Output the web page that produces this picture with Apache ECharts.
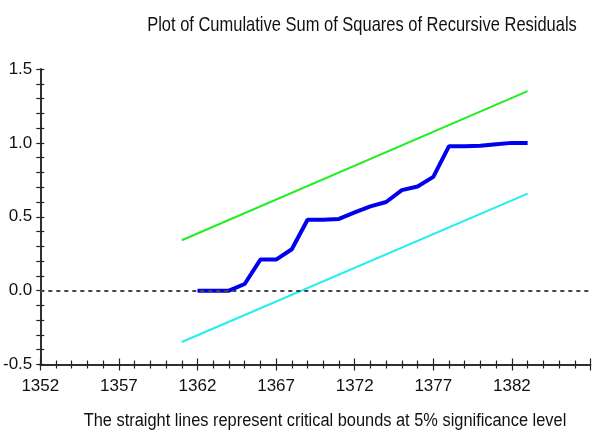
<!DOCTYPE html>
<html>
<head>
<meta charset="utf-8">
<script src="https://cdn.jsdelivr.net/npm/echarts@6/dist/echarts.min.js"></script>
<style>
html,body{margin:0;padding:0;background:#fff;}
#c{width:592px;height:434px;}
</style>
</head>
<body>
<div id="c"></div>
<script>
var titleText = 'Plot of Cumulative Sum of Squares of Recursive Residuals';
var footText = 'The straight lines represent critical bounds at 5% significance level';
var years = [1362,1363,1364,1365,1366,1367,1368,1369,1370,1371,1372,1373,1374,1375,1376,1377,1378,1379,1380,1381,1382,1383];
var cusumsq = [0,0,0,0.045,0.21,0.21,0.28,0.48,0.48,0.485,0.53,0.57,0.60,0.68,0.705,0.77,0.978,0.978,0.98,0.99,1.0,1.0];
var boundYears = [1361,1383];
var upperBound = [0.341,1.35];
var lowerBound = [-0.348,0.657];
var xMin = 1352, xMax = 1387, xStep = 5;
var yMin = -0.5, yMax = 1.5, yStep = 0.5;

var FONT = "'Liberation Sans', Arial, sans-serif";
function pairs(xs, ys){ return xs.map(function(x,i){ return [x, ys[i]]; }); }

var chart = echarts.init(document.getElementById('c'), null, {renderer:'canvas'});
var axisColor = '#222';
var baseX = {
  type:'value', min:xMin, max:xMax, interval:xStep, position:'bottom',
  axisLine:{show:true, onZero:false, lineStyle:{color:axisColor, width:1.5}},
  splitLine:{show:false},
  minorSplitLine:{show:false}
};
var baseY = {
  type:'value', min:yMin, max:yMax, interval:yStep, position:'left',
  axisLine:{show:true, onZero:false, lineStyle:{color:axisColor, width:1.5}},
  splitLine:{show:false},
  minorSplitLine:{show:false}
};
chart.setOption({
  animation:false,
  backgroundColor:'#fff',
  graphic:[
    {type:'text', x:362, y:25, scaleX:0.785, silent:true,
     style:{text:titleText, font:"normal 21px 'Liberation Sans', Arial, sans-serif",
       fill:'#111', textAlign:'center', textVerticalAlign:'middle'}},
    {type:'text', x:325, y:421, scaleX:0.91, silent:true,
     style:{text:footText, font:"normal 18px 'Liberation Sans', Arial, sans-serif",
       fill:'#111', textAlign:'center', textVerticalAlign:'middle'}}
  ],
  grid:{left:40, right:1.5, top:69, bottom:69.5, containLabel:false},
  xAxis:[
    Object.assign({}, baseX, {
      axisTick:{show:true, inside:false, length:6, lineStyle:{color:axisColor, width:1.2}},
      minorTick:{show:true, splitNumber:5, length:4, lineStyle:{color:axisColor, width:1.2}},
      axisLabel:{show:true, margin:13, showMaxLabel:false, fontFamily:FONT, fontSize:17, color:'#111',
        formatter:function(v){ return String(v); }}
    }),
    Object.assign({}, baseX, {
      axisTick:{show:true, inside:true, length:6, lineStyle:{color:axisColor, width:1.2}},
      minorTick:{show:true, splitNumber:5, length:4, lineStyle:{color:axisColor, width:1.2}},
      axisLabel:{show:false}
    })
  ],
  yAxis:[
    Object.assign({}, baseY, {
      axisTick:{show:true, inside:false, length:4, lineStyle:{color:axisColor, width:1.2}},
      minorTick:{show:true, splitNumber:5, length:4, lineStyle:{color:axisColor, width:1.2}},
      axisLabel:{show:true, margin:8, fontFamily:FONT, fontSize:17, color:'#111',
        formatter:function(v){ return v.toFixed(1); }}
    }),
    Object.assign({}, baseY, {
      axisTick:{show:true, inside:true, length:4, lineStyle:{color:axisColor, width:1.2}},
      minorTick:{show:true, splitNumber:5, length:4, lineStyle:{color:axisColor, width:1.2}},
      axisLabel:{show:false}
    })
  ],
  series:[
    {type:'line', name:'upper', data:pairs(boundYears, upperBound), showSymbol:false, symbol:'none',
     lineStyle:{color:'#22ee22', width:2}, z:3,
     markLine:{silent:true, symbol:'none', label:{show:false},
       lineStyle:{color:'#444', type:[4,4], width:2},
       data:[{yAxis:0}]}},
    {type:'line', name:'lower', data:pairs(boundYears, lowerBound), showSymbol:false, symbol:'none',
     lineStyle:{color:'#22eeee', width:2}, z:3},
    {type:'line', name:'cusumsq', data:pairs(years, cusumsq), showSymbol:false, symbol:'none',
     lineStyle:{color:'#0000ee', width:4}, z:4}
  ]
});
</script>
</body>
</html>
